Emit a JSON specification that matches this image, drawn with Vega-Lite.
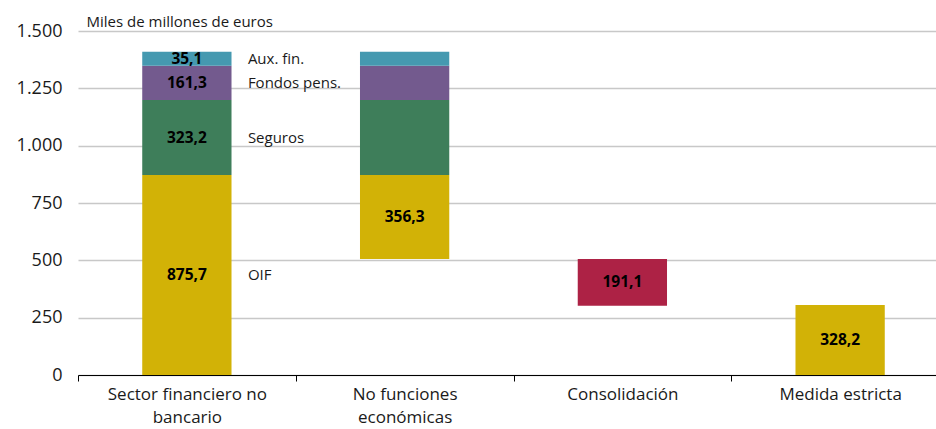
{
  "$schema": "https://vega.github.io/schema/vega-lite/v6.json",
  "width": 858,
  "height": 344,
  "autosize": {"type": "none"},
  "padding": {"left": 78, "top": 31, "right": 0, "bottom": 54},
  "background": "white",
  "config": {"view": {"stroke": null}, "font": "Open Sans"},
  "data": {
    "values": [
      {"cat": "Sector financiero no bancario", "seg": "OIF", "y0": 0, "y1": 872, "label": "875,7", "side": "OIF"},
      {"cat": "Sector financiero no bancario", "seg": "Seguros", "y0": 872, "y1": 1199, "label": "323,2", "side": "Seguros"},
      {"cat": "Sector financiero no bancario", "seg": "Fondos pens.", "y0": 1199, "y1": 1348, "label": "161,3", "side": "Fondos pens."},
      {"cat": "Sector financiero no bancario", "seg": "Aux. fin.", "y0": 1348, "y1": 1410, "label": "35,1", "side": "Aux. fin."},
      {"cat": "No funciones económicas", "seg": "OIF", "y0": 506, "y1": 872, "label": "356,3", "side": ""},
      {"cat": "No funciones económicas", "seg": "Seguros", "y0": 872, "y1": 1199, "label": "", "side": ""},
      {"cat": "No funciones económicas", "seg": "Fondos pens.", "y0": 1199, "y1": 1348, "label": "", "side": ""},
      {"cat": "No funciones económicas", "seg": "Aux. fin.", "y0": 1348, "y1": 1410, "label": "", "side": ""},
      {"cat": "Consolidación", "seg": "Consolidación", "y0": 302, "y1": 506, "label": "191,1", "side": ""},
      {"cat": "Medida estricta", "seg": "OIF", "y0": 0, "y1": 305, "label": "328,2", "side": ""}
    ]
  },
  "transform": [{"calculate": "(datum.y0 + datum.y1) / 2", "as": "mid"}],
  "encoding": {
    "x": {
      "field": "cat",
      "type": "nominal",
      "sort": ["Sector financiero no bancario", "No funciones económicas", "Consolidación", "Medida estricta"],
      "scale": {"range": [0, 871], "paddingInner": 0, "paddingOuter": 0},
      "axis": {
        "title": null,
        "labelAngle": 0,
        "tickBand": "extent",
        "domainColor": "#000000",
        "domainWidth": 1,
        "tickColor": "#000000",
        "tickSize": 6,
        "labelFont": "Open Sans",
        "labelFontSize": 17,
        "labelColor": "#1a1a1a",
        "labelPadding": 5,
        "labelLineHeight": 23,
        "labelExpr": "datum.label == 'Sector financiero no bancario' ? ['Sector financiero no', 'bancario'] : datum.label == 'No funciones económicas' ? ['No funciones', 'económicas'] : datum.label"
      }
    }
  },
  "layer": [
    {
      "mark": {"type": "bar", "width": {"band": 0.41}},
      "encoding": {
        "y": {
          "field": "y0",
          "type": "quantitative",
          "scale": {"domain": [0, 1500], "nice": false},
          "axis": {
            "values": [0, 250, 500, 750, 1000, 1250, 1500],
            "labelExpr": "replace(format(datum.value, ','), ',', '.')",
            "domain": false,
            "ticks": false,
            "grid": true,
            "gridColor": "#c8c8c8",
            "gridWidth": 1.5,
            "labelFont": "Open Sans",
            "labelFontSize": 18,
            "labelColor": "#1a1a1a",
            "labelPadding": 16,
            "title": "Miles de millones de euros",
            "titleAngle": 0,
            "titleAlign": "left",
            "titleBaseline": "alphabetic",
            "titleX": 8,
            "titleY": -5,
            "titleFont": "Open Sans",
            "titleFontSize": 15,
            "titleFontWeight": "normal",
            "titleColor": "#1a1a1a"
          }
        },
        "y2": {"field": "y1"},
        "color": {
          "field": "seg",
          "type": "nominal",
          "scale": {
            "domain": ["OIF", "Seguros", "Fondos pens.", "Aux. fin.", "Consolidación"],
            "range": ["#d2b206", "#3e7e5a", "#735a8e", "#4599b0", "#ad2245"]
          },
          "legend": null
        }
      }
    },
    {
      "transform": [{"filter": "datum.label != ''"}],
      "mark": {"type": "text", "font": "Open Sans", "fontSize": 15.5, "fontWeight": "bold", "color": "#000000", "align": "center", "baseline": "middle"},
      "encoding": {
        "y": {"field": "mid", "type": "quantitative"},
        "text": {"field": "label"}
      }
    },
    {
      "transform": [{"filter": "datum.side != ''"}],
      "mark": {"type": "text", "font": "Open Sans", "fontSize": 15, "color": "#1a1a1a", "align": "left", "baseline": "middle", "xOffset": 61},
      "encoding": {
        "y": {"field": "mid", "type": "quantitative"},
        "text": {"field": "side"}
      }
    }
  ]
}
